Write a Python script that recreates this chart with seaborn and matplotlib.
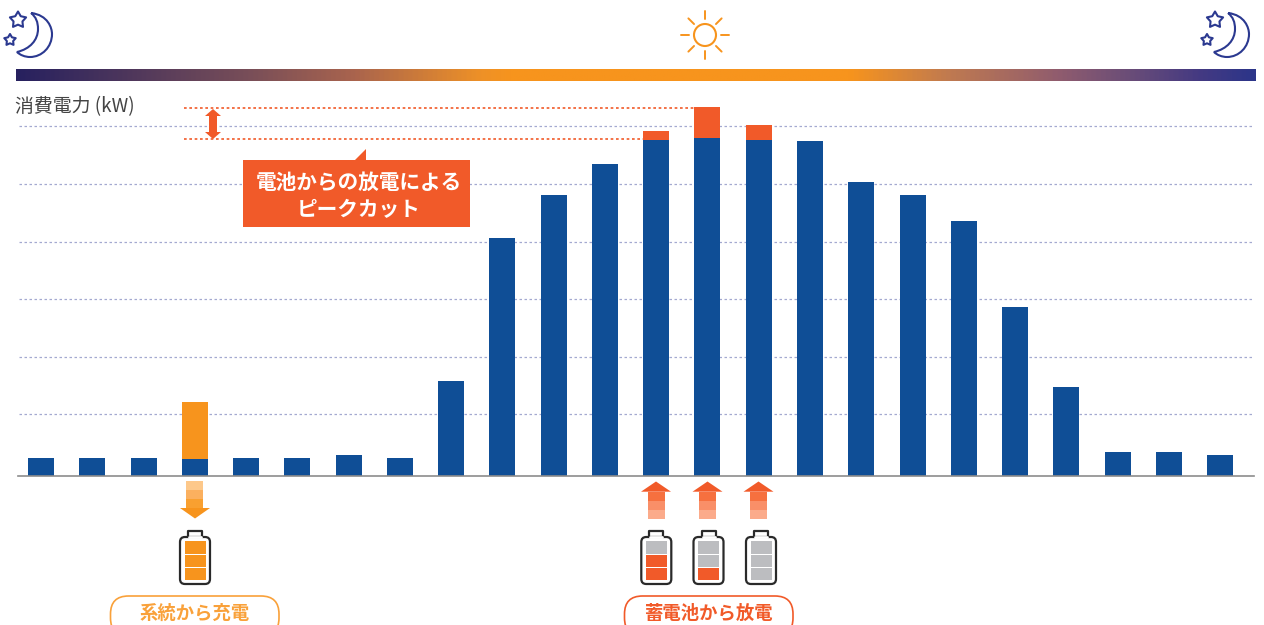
# coding=utf-8
from matplotlib import pyplot as plt
from matplotlib.colors import LinearSegmentedColormap
from matplotlib.patches import FancyBboxPatch, Polygon, Rectangle, Circle, PathPatch
from matplotlib.path import Path
import numpy as np
import seaborn as sns

# 時間帯ごとの消費電力 (目盛り1本=10として読み取り)
hours = [str(h) for h in range(24)]
usage = [3.1, 3.1, 3.1, 3.0, 3.1, 3.1, 3.6, 3.1, 16.5, 41.3, 48.8, 54.2,
         58.3, 58.7, 58.3, 58.2, 51.0, 48.8, 44.3, 29.3, 15.5, 4.2, 4.2, 3.6]
charge = [0, 0, 0, 9.9, 0, 0, 0, 0, 0, 0, 0, 0,
          0, 0, 0, 0, 0, 0, 0, 0, 0, 0, 0, 0]
discharge = [0, 0, 0, 0, 0, 0, 0, 0, 0, 0, 0, 0,
             1.6, 5.4, 2.6, 0, 0, 0, 0, 0, 0, 0, 0, 0]
grid_levels = [10.68, 20.68, 30.68, 40.68, 50.68, 60.68]
peak_before = 63.95
peak_after = 58.45

y_label = '消費電力 (kW)'
callout_text = '電池からの放電による\nピークカット'
charge_label = '系統から充電'
discharge_label = '蓄電池から放電'

BLUE = '#0f4e96'
ORANGE = '#f7941d'
RED = '#f15a29'
NAVY = '#2b3990'
GREY = '#bcbdc0'

W, H = 1264, 625
BASE_Y = 476
PX_PER_UNIT = 5.76


def star(ax, x, y, r):
    verts = Path.unit_regular_star(5, 0.55).vertices[:-1] * r
    verts = verts * np.array([1, -1]) + np.array([x, y])
    ax.add_patch(Polygon(verts, closed=True, fill=False, ec=NAVY, lw=1.5, joinstyle='round'))


def moon(ax, dx):
    verts = [(31 + dx, 13), (48 + dx, 15), (52 + dx, 28), (52 + dx, 34),
             (52 + dx, 47), (42 + dx, 57), (30 + dx, 57), (25 + dx, 57),
             (20 + dx, 55), (17 + dx, 52), (30 + dx, 49), (38 + dx, 40),
             (38 + dx, 29), (38 + dx, 22), (36 + dx, 17), (31 + dx, 13)]
    codes = [Path.MOVETO] + [Path.CURVE4] * 15
    ax.add_patch(PathPatch(Path(verts, codes), fill=False, ec=NAVY, lw=1.5))
    star(ax, 18 + dx, 20, 8.5)
    star(ax, 10 + dx, 40, 6)


def sun(ax, x, y):
    ax.add_patch(Circle((x, y), 11, fill=False, ec=ORANGE, lw=1.5))
    for a in np.arange(0, 360, 45):
        c, s = np.cos(np.radians(a)), np.sin(np.radians(a))
        r0, r1 = (16, 24) if a % 90 == 0 else (15.5, 23.5)
        ax.plot([x + r0 * c, x + r1 * c], [y + r0 * s, y + r1 * s], color=ORANGE, lw=1.4)


def battery(ax, cx, cells):
    ax.add_patch(FancyBboxPatch((cx - 15, 537), 30, 47, boxstyle='round,pad=0,rounding_size=5',
                                fc='white', ec='#2a2a2a', lw=1.6))
    ax.plot([cx - 7, cx - 7, cx + 7, cx + 7], [537, 531, 531, 537], color='#2a2a2a', lw=1.6)
    ax.plot([cx - 6, cx + 6], [537, 537], color='white', lw=2)
    for (top, bottom), c in zip([(541, 553.5), (554.5, 566.5), (568, 580)], cells):
        ax.add_patch(Rectangle((cx - 10.5, top), 21, bottom - top, fc=c, ec='none'))


def arrow_stripes(ax, cx, tops, colors, w=17):
    for (t0, t1), c in zip(tops, colors):
        ax.add_patch(Rectangle((cx - w / 2, t0), w, t1 - t0, fc=c, ec='none'))


def pill(ax, x0, x1, color, text):
    ax.add_patch(FancyBboxPatch((x0, 596), x1 - x0, 40, boxstyle='round,pad=0,rounding_size=18',
                                fc='white', ec=color, lw=1.2))
    ax.text((x0 + x1) / 2, 613, text, ha='center', va='center', color=color,
            fontsize=13.2, fontweight='bold')


def main():
    sns.set_theme(style='white')
    plt.rcParams['font.family'] = ['Noto Sans CJK JP', 'DejaVu Sans']

    fig = plt.figure(figsize=(W / 100, H / 100), dpi=100)

    # 棒グラフ本体
    ax = fig.add_axes([18 / W, (H - BASE_Y) / H, (1254 - 18) / W, 376 / H])
    ax.patch.set_alpha(0)
    ax.hlines(grid_levels, -1, 24, color='#a4a9d0', lw=0.9, linestyles=[(0, (2, 2))], zorder=0)
    bar_style = dict(saturation=1, width=0.507, ax=ax, zorder=3, linewidth=0)
    sns.barplot(x=hours, y=usage, color=BLUE, **bar_style)
    sns.barplot(x=hours, y=charge, bottom=usage, color=ORANGE, **bar_style)
    sns.barplot(x=hours, y=discharge, bottom=usage, color=RED, **bar_style)
    ax.hlines(peak_before, 2.79, 12.74, color=RED, lw=1.2, linestyles=[(0, (1.6, 1.6))], zorder=2)
    ax.hlines(peak_after, 2.79, 11.74, color=RED, lw=1.2, linestyles=[(0, (1.6, 1.6))], zorder=2)
    ax.set_xlim(-0.449, 23.66)
    ax.set_ylim(0, 376 / PX_PER_UNIT)
    ax.set_xticks([])
    ax.set_yticks([])
    ax.set_xlabel('')
    ax.set_ylabel('')
    for s in ['top', 'left', 'right']:
        ax.spines[s].set_visible(False)
    ax.spines['bottom'].set_color('#8c8c8c')
    ax.spines['bottom'].set_linewidth(1.2)
    ax.spines['bottom'].set_zorder(5)

    # 飾り (ピクセル座標)
    ov = fig.add_axes([0, 0, 1, 1], zorder=5)
    ov.set_xlim(0, W)
    ov.set_ylim(H, 0)
    ov.axis('off')

    cmap = LinearSegmentedColormap.from_list('sky', [
        (0.0, '#27215f'), (0.19, '#7a4f58'), (0.27, '#a8634e'), (0.375, '#ee9127'),
        (0.40, ORANGE), (0.673, ORANGE), (0.753, '#c07a50'), (0.842, '#905c6e'),
        (0.90, '#6a4d78'), (0.955, '#453a82'), (1.0, '#2c3589')])
    ov.imshow(np.linspace(0, 1, 512).reshape(1, -1), cmap=cmap, aspect='auto',
              extent=(16, 1256, 81, 69))
    ov.set_xlim(0, W)
    ov.set_ylim(H, 0)

    moon(ov, 0)
    moon(ov, 1197)
    sun(ov, 705, 35)

    ov.text(15, 106.5, y_label, ha='left', va='center', fontsize=13.6, color='#444444')

    # ピークカットの吹き出し
    ov.add_patch(Polygon([(213, 109), (221, 116), (217, 116), (217, 132), (221, 132), (213, 139),
                          (205, 132), (209, 132), (209, 116), (205, 116)], fc=RED, ec='none'))
    ov.add_patch(Polygon([(355, 160), (366, 149), (366, 160)], fc=RED, ec='none'))
    ov.add_patch(Rectangle((243, 160), 227, 67, fc=RED, ec='none'))
    ov.text(359, 196, callout_text, ha='center', va='center', color='white', fontsize=14.9,
            fontweight='bold', linespacing=1.36)

    # 充電の矢印と電池
    arrow_stripes(ov, 194.5, [(481, 490), (490, 499), (499, 508)], ['#fdc88a', '#fbb05f', '#f9a030'])
    ov.add_patch(Polygon([(180, 508), (210, 508), (195, 518.5)], fc=ORANGE, ec='none'))
    battery(ov, 195, [ORANGE, ORANGE, ORANGE])

    # 放電の矢印と電池
    for cx in [656, 707.5, 758.5]:
        ov.add_patch(Polygon([(cx - 15, 491.7), (cx + 15, 491.7), (cx, 481.5)], fc=RED, ec='none'))
        arrow_stripes(ov, cx, [(491.7, 501), (501, 510), (510, 519)], ['#f6703f', '#f98f68', '#fbab8b'])
    battery(ov, 656.3, [GREY, RED, RED])
    battery(ov, 708.5, [GREY, GREY, RED])
    battery(ov, 761, [GREY, GREY, GREY])

    pill(ov, 110.5, 279, '#f9a13a', charge_label)
    pill(ov, 624.5, 793, RED, discharge_label)

    plt.savefig('out.png', dpi=100)


if __name__ == '__main__':
    main()
